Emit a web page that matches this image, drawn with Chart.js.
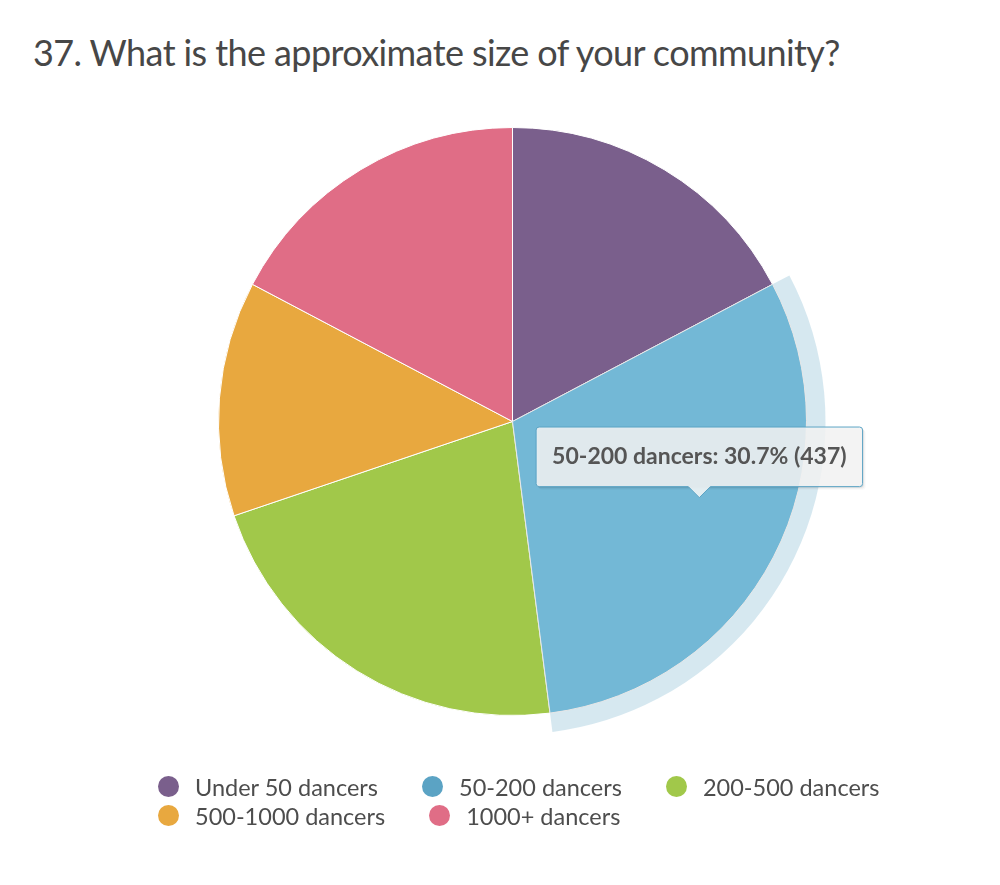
<!DOCTYPE html>
<html>
<head>
<meta charset="utf-8">
<script src="https://cdn.jsdelivr.net/npm/chart.js@4/dist/chart.umd.min.js"></script>
<style>
  body { margin: 0; background: #fff; font-family: Lato, "Open Sans", sans-serif; }
  #wrap { position: relative; width: 1000px; height: 885px; }
  #title { position: absolute; left: 33px; top: 30px; font-size: 36px; letter-spacing: -0.6px; color: #474747; white-space: nowrap; }
  #chart { position: absolute; left: 0; top: 0; }
  #legend { position: absolute; left: 158px; top: 772px; width: 800px; display: flex; flex-wrap: wrap; }
  .item { display: flex; align-items: center; height: 29px; margin-right: 44px; font-size: 23.5px; color: #4d4d4d; white-space: nowrap; }
  .dot { width: 21px; height: 21px; border-radius: 50%; margin-right: 16px; }
</style>
</head>
<body>
<div id="wrap">
  <div id="title">37. What is the approximate size of your community?</div>
  <canvas id="chart" width="1000" height="885"></canvas>
  <div id="legend"></div>
</div>
<script>
// answers to question 37
var labels = ['Under 50 dancers', '50-200 dancers', '200-500 dancers', '500-1000 dancers', '1000+ dancers'];
var counts = [246, 437, 311, 184, 246];
var colors = ['#7a5f8c', '#5ba3c4', '#a1c84a', '#e8a83f', '#e06d86'];
var hoverColors = ['#8c71a0', '#73b8d6', '#b3da5c', '#f8ba51', '#f27f98'];
var hovered = 1;

var total = counts.reduce(function (a, b) { return a + b; }, 0);

// the pale ring round the hovered slice
var halo = {
    id: 'halo',
    beforeDatasetsDraw: function (chart) {
        var active = chart.getActiveElements();
        if (!active.length) return;
        var el = active[0].element;
        var p = el.getProps(['x', 'y', 'startAngle', 'endAngle', 'outerRadius']);
        var ctx = chart.ctx;
        ctx.save();
        ctx.globalAlpha = 0.25;
        ctx.fillStyle = colors[active[0].index];
        ctx.beginPath();
        ctx.arc(p.x, p.y, p.outerRadius + 19, p.startAngle, p.endAngle);
        ctx.arc(p.x, p.y, p.outerRadius, p.endAngle, p.startAngle, true);
        ctx.closePath();
        ctx.fill();
        ctx.restore();
    },
    // soft shadow under the tooltip box
    beforeTooltipDraw: function (chart) {
        var t = chart.tooltip;
        if (!t || !t.opacity) return;
        var ctx = chart.ctx;
        ctx.save();
        for (var i = 1; i <= 3; i++) {
            ctx.fillStyle = 'rgba(0,0,0,' + (0.08 / i) + ')';
            ctx.beginPath();
            ctx.roundRect(t.x + i, t.y + i, t.width, t.height, 3);
            ctx.fill();
        }
        ctx.restore();
    }
};

Chart.Tooltip.positioners.slice = function (items) {
    if (!items.length) return false;
    var p = items[0].element.getProps(['x', 'y', 'startAngle', 'endAngle', 'outerRadius']);
    var a = p.startAngle + (p.endAngle - p.startAngle) * 0.45;
    var r = p.outerRadius * 0.685;
    return { x: p.x + Math.cos(a) * r, y: p.y + Math.sin(a) * r + 2 };
};

var ctx = document.getElementById('chart').getContext('2d');
var chart = new Chart(ctx, {
    type: 'pie',
    data: {
        labels: labels,
        datasets: [{
            data: counts,
            backgroundColor: colors,
            hoverBackgroundColor: hoverColors,
            borderColor: '#ffffff',
            borderWidth: 1,
            hoverBorderWidth: 1,
            hoverOffset: 0
        }]
    },
    plugins: [halo],
    options: {
        responsive: false,
        animation: false,
        events: [],
        layout: { padding: { top: 127, bottom: 169, left: 218, right: 193 } },
        plugins: {
            legend: { display: false },
            tooltip: {
                position: 'slice',
                xAlign: 'center',
                yAlign: 'bottom',
                backgroundColor: 'rgba(247,247,247,0.85)',
                borderColor: '#5ba3c4',
                borderWidth: 1,
                cornerRadius: 3,
                caretSize: 11,
                caretPadding: 1,
                padding: 16,
                displayColors: false,
                bodyColor: '#555555',
                bodyFont: { family: 'Lato', size: 23, weight: 'bold' },
                callbacks: {
                    title: function () { return ''; },
                    label: function (item) {
                        var pct = (item.raw / total * 100).toFixed(1);
                        return item.label + ': ' + pct + '% (' + item.raw + ')';
                    }
                }
            }
        }
    }
});

chart.setActiveElements([{ datasetIndex: 0, index: hovered }]);
chart.tooltip.setActiveElements([{ datasetIndex: 0, index: hovered }], { x: 0, y: 0 });
chart.update();

// legend, left aligned rows like the original
var legend = document.getElementById('legend');
labels.forEach(function (name, i) {
    var item = document.createElement('div');
    item.className = 'item';
    var dot = document.createElement('span');
    dot.className = 'dot';
    dot.style.background = colors[i];
    item.appendChild(dot);
    item.appendChild(document.createTextNode(name));
    legend.appendChild(item);
});
</script>
</body>
</html>
